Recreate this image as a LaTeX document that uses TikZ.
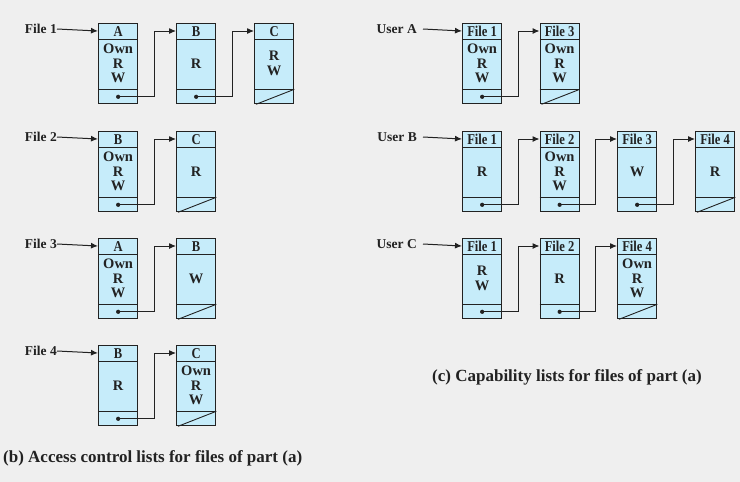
\documentclass[tikz,border=0pt]{standalone}
\usepackage{fontspec}
\setmainfont{Liberation Serif}
\usetikzlibrary{arrows.meta,calc}
\definecolor{bg}{HTML}{EFEFEF}
\definecolor{cellfill}{HTML}{C6ECFA}
\definecolor{ink}{HTML}{222222}
\tikzset{
  cellbox/.style={draw=ink, fill=cellfill, line width=1.3pt, minimum width=39pt, minimum height=80pt, inner sep=0pt, anchor=north west},
  txt/.style={font=\fontsize{14.5}{14.3}\selectfont\bfseries, text=ink, inner sep=0pt, align=center},
  hdr/.style={font=\fontsize{15}{15}\selectfont\bfseries, text=ink, inner sep=0pt, align=center},
  lbl/.style={font=\fontsize{13.5}{15}\selectfont\bfseries, text=ink, inner sep=0pt},
  link/.style={draw=ink, line width=1pt, -{Latex[length=7pt,width=6pt]}},
  captxt/.style={font=\fontsize{17}{19}\selectfont\bfseries, text=ink, inner sep=0pt},
}
\newcommand\mycell[5]{%
  \node[cellbox] (#1) at (#2,#3) {};
  \draw[draw=ink, line width=1pt] ([yshift=-16pt]#1.north west) -- ([yshift=-16pt]#1.north east);
  \draw[draw=ink, line width=1pt] ([yshift=15pt]#1.south west) -- ([yshift=15pt]#1.south east);
  \node[hdr] (#1h) at ([yshift=-8.5pt]#1.north) {\scalebox{0.84}[1]{#4}};
  \node[txt] (#1b) at ([yshift=-40.5pt]#1.north) {#5};
  \coordinate (#1in) at ([yshift=-8pt]#1.north west);
  \coordinate (#1f) at ([yshift=7.5pt]#1.south);
}
\newcommand\mylink[2]{%
  \fill[ink] (#1f) circle (2.1pt);
  \draw[link] (#1f) -- ([xshift=16pt]#1.east |- #1f) |- (#2in);
}
\newcommand\myend[1]{%
  \draw[draw=ink, line width=0.9pt] ([xshift=2pt]#1.south west) -- ([yshift=15pt]#1.south east);
}
\begin{document}
\begin{tikzpicture}[x=1pt,y=-1pt]
\fill[bg] (0,0) rectangle (740,482);
\useasboundingbox (0,0) rectangle (740,482);
% ---------- (b) ACLs ----------
% File 1
\mycell{a1}{98}{23}{A}{Own\\R\\W}
\mycell{b1}{176}{23}{B}{R}
\mycell{c1}{254}{23}{C}{R\\W}
\node[lbl, anchor=east] (f1) at (57,29) {File 1};
\draw[link] (f1.east) -- (a1in);
\mylink{a1}{b1}
\mylink{b1}{c1}
\myend{c1}
% File 2
\mycell{a2}{98}{131}{B}{Own\\R\\W}
\mycell{b2}{176}{131}{C}{R}
\node[lbl, anchor=east] (f2) at (57,137) {File 2};
\draw[link] (f2.east) -- (a2in);
\mylink{a2}{b2}
\myend{b2}
% File 3
\mycell{a3}{98}{238}{A}{Own\\R\\W}
\mycell{b3}{176}{238}{B}{W}
\node[lbl, anchor=east] (f3) at (57,244) {File 3};
\draw[link] (f3.east) -- (a3in);
\mylink{a3}{b3}
\myend{b3}
% File 4
\mycell{a4}{98}{345}{B}{R}
\mycell{b4}{176}{345}{C}{Own\\R\\W}
\node[lbl, anchor=east] (f4) at (57,351) {File 4};
\draw[link] (f4.east) -- (a4in);
\mylink{a4}{b4}
\myend{b4}
\node[captxt, anchor=west] (capb) at (3,458) {(b) Access control lists for files of part (a)};
% ---------- (c) Capability lists ----------
% User A
\mycell{ua1}{462}{23}{File 1}{Own\\R\\W}
\mycell{ua2}{539.5}{23}{File 3}{Own\\R\\W}
\node[lbl, anchor=east] (uA) at (417,29) {User A};
\draw[link] ([xshift=6pt]uA.east) -- (ua1in);
\mylink{ua1}{ua2}
\myend{ua2}
% User B
\mycell{ub1}{462}{131}{File 1}{R}
\mycell{ub2}{539.5}{131}{File 2}{Own\\R\\W}
\mycell{ub3}{617}{131}{File 3}{W}
\mycell{ub4}{695}{131}{File 4}{R}
\node[lbl, anchor=east] (uB) at (417,137) {User B};
\draw[link] ([xshift=6pt]uB.east) -- (ub1in);
\mylink{ub1}{ub2}
\mylink{ub2}{ub3}
\mylink{ub3}{ub4}
\myend{ub4}
% User C
\mycell{uc1}{462}{238}{File 1}{R\\W}
\mycell{uc2}{539.5}{238}{File 2}{R}
\mycell{uc3}{617}{238}{File 4}{Own\\R\\W}
\node[lbl, anchor=east] (uC) at (417,244) {User C};
\draw[link] ([xshift=6pt]uC.east) -- (uc1in);
\mylink{uc1}{uc2}
\mylink{uc2}{uc3}
\myend{uc3}
\node[captxt, anchor=west] (capc) at (432,377) {(c) Capability lists for files of part (a)};
\end{tikzpicture}
\end{document}
